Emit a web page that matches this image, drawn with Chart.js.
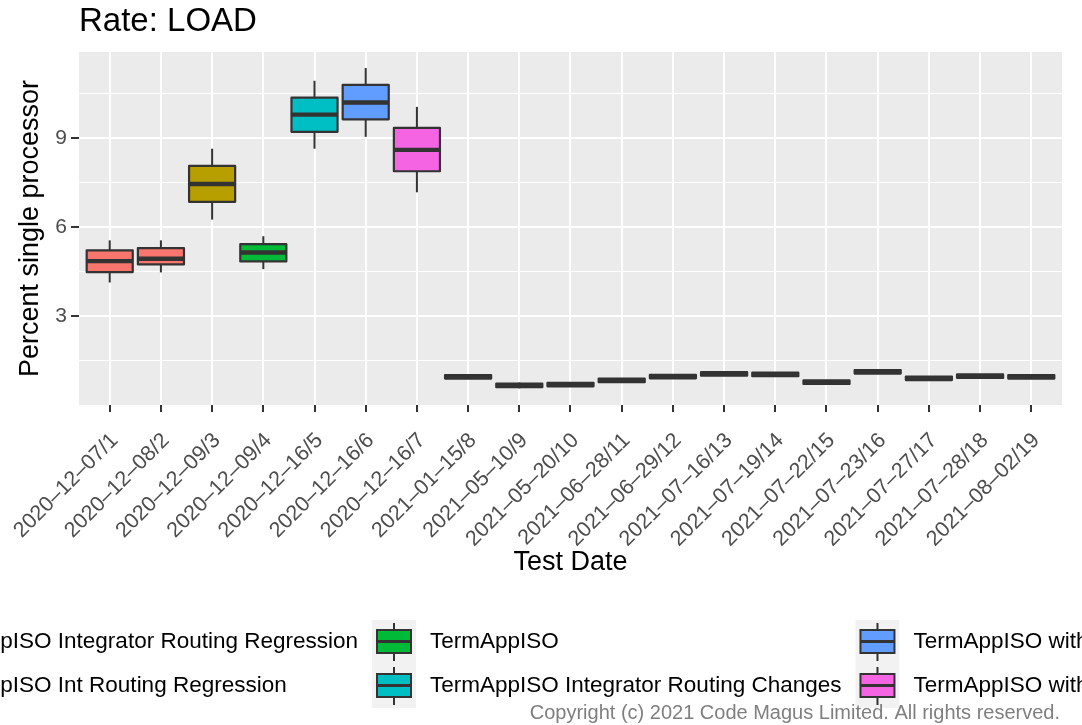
<!DOCTYPE html>
<html>
<head>
<meta charset="utf-8">
<title>Rate: LOAD</title>
<script src="https://cdn.jsdelivr.net/npm/chart.js@4.4.0/dist/chart.umd.min.js"></script>
<style>
  html, body { margin: 0; padding: 0; background: #ffffff; }
  #wrap { position: relative; width: 1082px; height: 725px; }
</style>
</head>
<body>
<div id="wrap"><canvas id="rateChart"></canvas></div>
<script>
// one entry per test run, left to right
const testDates = [
    '2020–12–07/1', '2020–12–08/2', '2020–12–09/3', '2020–12–09/4', '2020–12–16/5',
    '2020–12–16/6', '2020–12–16/7', '2021–01–15/8', '2021–05–10/9', '2021–05–20/10',
    '2021–06–28/11', '2021–06–29/12', '2021–07–16/13', '2021–07–19/14', '2021–07–22/15',
    '2021–07–23/16', '2021–07–27/17', '2021–07–28/18', '2021–08–02/19'
];

// build used for each run (index into groupNames)
const runGroup = [0, 0, 1, 2, 3, 4, 5, 5, 5, 5, 5, 5, 5, 5, 5, 5, 5, 5, 5];

const groupNames = [
    'TermAppISO Integrator Routing Regression',
    'TermAppISO Int Routing Regression',
    'TermAppISO',
    'TermAppISO Integrator Routing Changes',
    'TermAppISO with Integrator Routing Changes',
    'TermAppISO with Int Routing Changes'
];
const groupColors = ['#F8766D', '#B79F00', '#00BA38', '#00BFC4', '#619CFF', '#F564E3'];

// box statistics, percent single processor
const whiskerLow    = [4.13, 4.47, 6.25, 4.58, 8.64, 9.04, 7.17, 0.88, 0.56, 0.62, 0.76, 0.89, 0.98, 0.96, 0.70, 1.05, 0.83, 0.90, 0.88];
const lowerQuartile = [4.48, 4.74, 6.85, 4.84, 9.21, 9.63, 7.88, 0.89, 0.60, 0.63, 0.77, 0.90, 0.99, 0.97, 0.71, 1.06, 0.84, 0.91, 0.89];
const medianValue   = [4.85, 4.93, 7.45, 5.14, 9.79, 10.20, 8.60, 0.95, 0.66, 0.69, 0.83, 0.96, 1.05, 1.03, 0.77, 1.12, 0.90, 0.97, 0.95];
const upperQuartile = [5.21, 5.29, 8.06, 5.42, 10.36, 10.79, 9.34, 1.01, 0.72, 0.75, 0.89, 1.02, 1.11, 1.09, 0.83, 1.18, 0.96, 1.03, 1.01];
const whiskerHigh   = [5.55, 5.55, 8.64, 5.69, 10.93, 11.36, 10.05, 1.02, 0.76, 0.76, 0.90, 1.03, 1.12, 1.10, 0.84, 1.19, 0.97, 1.04, 1.02];

const yMajorTicks = [3, 6, 9];
const yMinorTicks = [1.5, 4.5, 7.5, 10.5];

const copyrightText = 'Copyright (c) 2021 Code Magus Limited. All rights reserved.';

const FONT = '"Liberation Sans", Arial, Helvetica, sans-serif';
const INK = '#333333';

// grey panel behind the grid
const panelPlugin = {
    id: 'panel',
    beforeDraw(chart) {
        const { ctx, chartArea: a } = chart;
        ctx.save();
        ctx.fillStyle = '#EBEBEB';
        ctx.fillRect(a.left, a.top, a.right - a.left, a.bottom - a.top);
        ctx.restore();
    }
};

// whiskers under the boxes, outline + median on top
const boxPlugin = {
    id: 'boxes',
    beforeDatasetsDraw(chart) {
        const { ctx } = chart;
        const xs = chart.scales.x, ys = chart.scales.y;
        ctx.save();
        ctx.strokeStyle = INK;
        ctx.lineWidth = 2;
        testDates.forEach((_, i) => {
            const px = xs.getPixelForValue(i);
            ctx.beginPath();
            ctx.moveTo(px, ys.getPixelForValue(whiskerLow[i]));
            ctx.lineTo(px, ys.getPixelForValue(whiskerHigh[i]));
            ctx.stroke();
        });
        ctx.restore();
    },
    afterDatasetsDraw(chart) {
        const { ctx } = chart;
        const ys = chart.scales.y;
        const bars = chart.getDatasetMeta(0).data;
        ctx.save();
        ctx.strokeStyle = INK;
        ctx.lineJoin = 'round';
        bars.forEach((bar, i) => {
            const { x, y, base, width } = bar.getProps(['x', 'y', 'base', 'width'], true);
            ctx.lineWidth = 2.2;
            ctx.strokeRect(x - width / 2, y, width, base - y);
            const my = ys.getPixelForValue(medianValue[i]);
            ctx.lineWidth = 4.4;
            ctx.beginPath();
            ctx.moveTo(x - width / 2, my);
            ctx.lineTo(x + width / 2, my);
            ctx.stroke();
        });
        ctx.restore();
    }
};

// ggplot style legend below the plot (wider than the page, so it gets cut off) + caption
const legendPlugin = {
    id: 'bottomLegend',
    afterDraw(chart) {
        const { ctx } = chart;
        const key = 44, keyGap = 14, colGap = 14;
        const rowTop = [620, 664];
        const cols = [[0, 1], [2, 3], [4, 5]];
        ctx.save();
        ctx.font = `22.5px ${FONT}`;
        ctx.textBaseline = 'middle';
        ctx.textAlign = 'left';
        const colW = cols.map(c => Math.max(...c.map(g => ctx.measureText(groupNames[g]).width)));
        let kx = 372 - (key + keyGap + colW[0] + colGap);
        cols.forEach((col, ci) => {
            col.forEach((g, ri) => {
                const top = rowTop[ri];
                ctx.fillStyle = '#F2F2F2';
                ctx.fillRect(kx, top, key, key);
                const cx = kx + key / 2;
                ctx.strokeStyle = INK;
                ctx.lineWidth = 2;
                ctx.beginPath();
                ctx.moveTo(cx, top + 3);
                ctx.lineTo(cx, top + 41);
                ctx.stroke();
                ctx.fillStyle = groupColors[g];
                ctx.fillRect(kx + 5, top + 10, 34, 23);
                ctx.strokeRect(kx + 5, top + 10, 34, 23);
                ctx.lineWidth = 3;
                ctx.beginPath();
                ctx.moveTo(kx + 5, top + 21.5);
                ctx.lineTo(kx + 39, top + 21.5);
                ctx.stroke();
                ctx.fillStyle = '#000000';
                ctx.fillText(groupNames[g], kx + key + keyGap, top + key / 2);
            });
            kx += key + keyGap + colW[ci] + colGap;
        });

        ctx.font = `20px ${FONT}`;
        ctx.fillStyle = '#7F7F7F';
        ctx.textAlign = 'right';
        ctx.fillText(copyrightText, 1060, 713);
        ctx.restore();
    }
};

const isMajor = c => c.tick && yMajorTicks.includes(c.tick.value);

const chart = new Chart(document.getElementById('rateChart'), {
    type: 'bar',
    data: {
        datasets: [{
            label: 'Interquartile range',
            data: testDates.map((_, i) => ({ x: i, y: [lowerQuartile[i], upperQuartile[i]] })),
            backgroundColor: runGroup.map(g => groupColors[g]),
            borderWidth: 0,
            barPercentage: 0.9,
            categoryPercentage: 1.0
        }]
    },
    plugins: [panelPlugin, boxPlugin, legendPlugin],
    options: {
        responsive: true,
        maintainAspectRatio: false,
        animation: false,
        devicePixelRatio: 1,
        layout: { padding: { left: 0, right: 20, top: 0, bottom: 144 }, autoPadding: false },
        plugins: {
            legend: { display: false },
            tooltip: { enabled: false },
            title: {
                display: true,
                text: 'Rate: LOAD',
                align: 'start',
                fullSize: false,
                color: '#000000',
                font: { family: FONT, size: 33, weight: 'normal' },
                padding: { top: 2, bottom: 10.4 }
            }
        },
        scales: {
            x: {
                type: 'linear',
                min: -0.6,
                max: 18.6,
                offset: false,
                afterBuildTicks: s => { s.ticks = testDates.map((_, i) => ({ value: i })); },
                afterFit: s => { s.height = 176; s.paddingLeft = 0; s.paddingRight = 0; },
                grid: { color: '#FFFFFF', lineWidth: 2, offset: false, tickLength: 7, tickColor: INK, tickWidth: 2 },
                border: { display: false },
                ticks: {
                    autoSkip: false,
                    minRotation: 45,
                    maxRotation: 45,
                    padding: 16,
                    labelOffset: 5,
                    color: '#4D4D4D',
                    font: { family: FONT, size: 21.5 },
                    callback: v => testDates[v]
                },
                title: {
                    display: true,
                    text: 'Test Date',
                    color: '#000000',
                    font: { family: FONT, size: 27 },
                    padding: { top: 0, bottom: 2 }
                }
            },
            y: {
                min: 0,
                max: 11.9,
                afterBuildTicks: s => {
                    s.ticks = yMinorTicks.concat(yMajorTicks).sort((a, b) => a - b).map(v => ({ value: v }));
                },
                afterFit: s => { s.width = 79; },
                grid: {
                    color: '#FFFFFF',
                    lineWidth: c => isMajor(c) ? 2 : 1,
                    tickLength: 8,
                    tickWidth: 2,
                    tickColor: c => isMajor(c) ? INK : 'rgba(0,0,0,0)'
                },
                border: { display: false },
                ticks: {
                    padding: 4,
                    color: '#4D4D4D',
                    font: { family: FONT, size: 21 },
                    callback: v => yMajorTicks.includes(v) ? String(v) : ''
                },
                title: {
                    display: true,
                    text: 'Percent single processor',
                    color: '#000000',
                    font: { family: FONT, size: 27 },
                    padding: { top: 14.5, bottom: 0 }
                }
            }
        }
    }
});
</script>
</body>
</html>
